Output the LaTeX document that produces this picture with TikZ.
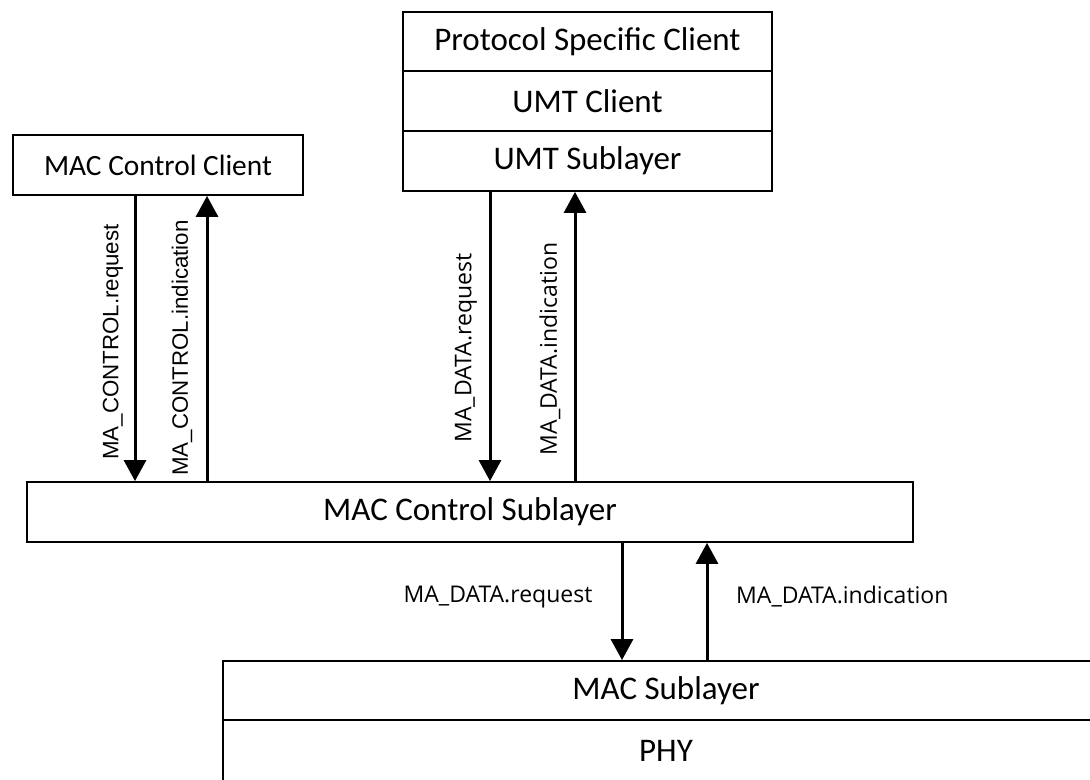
\documentclass[tikz,border=0pt]{standalone}
\usepackage{fontspec}
\setmainfont{Carlito}
\newfontfamily\arialf{Liberation Sans}
\newfontfamily\segoef{Open Sans}
\usetikzlibrary{arrows.meta}
\tikzset{
  layerbox/.style={draw, line width=1.8bp, rectangle, inner sep=0pt, align=center,
    font=\fontsize{33bp}{40bp}\selectfont},
  arr/.style={line width=3bp, -{Triangle[width=22bp,length=21bp]}},
  ctrllabel/.style={rotate=90, inner sep=0pt, font=\arialf\fontsize{22.3bp}{26bp}\selectfont},
  datalabel/.style={inner sep=0pt, font=\segoef\fontsize{23bp}{28bp}\selectfont},
}
\begin{document}
\begin{tikzpicture}[x=1bp, y=-1bp]
\useasboundingbox (0,0) rectangle (1090,780);
\clip (0,0) rectangle (1090,780);
% boxes
\node[layerbox, minimum width=290bp, minimum height=60bp,
  font=\fontsize{29.4bp}{36bp}\selectfont] (mcc) at (158,165) {MAC Control Client};
\node[layerbox, minimum width=369bp, minimum height=59bp] (psc) at (587.5,41.5) {Protocol Specific Client};
\node[layerbox, minimum width=369bp, minimum height=60bp] (umtc) at (587.5,101) {UMT Client};
\node[layerbox, minimum width=369bp, minimum height=60bp] (umts) at (587.5,161) {UMT Sublayer};
\node[layerbox, minimum width=886bp, minimum height=60bp] (mcs) at (470,512) {MAC Control Sublayer};
\node[layerbox, minimum width=886bp, minimum height=59bp] (macs) at (666,690.5) {MAC Sublayer};
\node[layerbox, minimum width=886bp, minimum height=62bp] (phy) at (666,751) {PHY};
% arrows client <-> control sublayer
\draw[arr] ([xshift=-23bp]mcc.south) -- ([xshift=-23bp]mcc.south |- mcs.north);
\draw[arr] ([xshift=49bp]mcc.south |- mcs.north) -- ([xshift=49bp]mcc.south);
\draw[arr] ([xshift=-97.5bp]umts.south) -- ([xshift=-97.5bp]umts.south |- mcs.north);
\draw[arr] ([xshift=-12.5bp]umts.south |- mcs.north) -- ([xshift=-12.5bp]umts.south);
% arrows control sublayer <-> MAC sublayer
\draw[arr] ([xshift=152bp]mcs.south) -- ([xshift=152bp]mcs.south |- macs.north);
\draw[arr] ([xshift=237bp]mcs.south |- macs.north) -- ([xshift=237bp]mcs.south);
% labels
\node[ctrllabel] (l1) at (113,342) {MA\_CONTROL.request};
\node[ctrllabel] (l2) at (182,348) {MA\_CONTROL.indication};
\node[datalabel, rotate=90] (l3) at (466,348) {MA\_DATA.request};
\node[datalabel, rotate=90] (l4) at (550,349) {MA\_DATA.indication};
\node[datalabel] (l5) at (498,597) {MA\_DATA.request};
\node[datalabel, anchor=west] (l6) at (736,597) {MA\_DATA.indication};
\end{tikzpicture}
\end{document}
